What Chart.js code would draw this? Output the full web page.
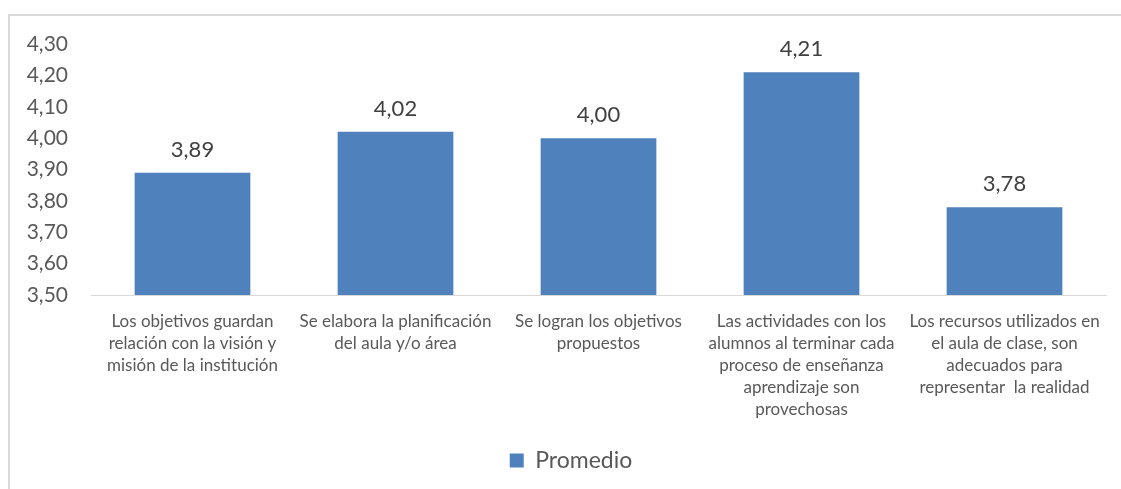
<!DOCTYPE html>
<html>
<head>
<meta charset="utf-8">
<script src="https://cdn.jsdelivr.net/npm/chart.js@4"></script>
<style>
  html, body { margin: 0; padding: 0; background: #fff; overflow: hidden; }
  #frame {
    position: absolute; left: 8px; top: 14px; width: 1140px; height: 490px;
    border-top: 2px solid #d9d9d9; border-left: 2px solid #d9d9d9;
  }
  #wrap { position: absolute; left: 0; top: 0; width: 1131px; height: 470px; }
</style>
</head>
<body>
<div id="frame"><div id="wrap"><canvas id="chart"></canvas></div></div>
<script>
const categories = [
    ['Los objetivos guardan', 'relación con la visión y', 'misión de la institución'],
    ['Se elabora la planificación', 'del aula y/o área'],
    ['Se logran los objetivos', 'propuestos'],
    ['Las actividades con los', 'alumnos al terminar cada', 'proceso de enseñanza', 'aprendizaje son', 'provechosas'],
    ['Los recursos utilizados en', 'el aula de clase, son', 'adecuados para', 'representar  la realidad']
];
const promedio = [3.89, 4.02, 4.00, 4.21, 3.78];
const yMin = 3.5, yMax = 4.3, yStep = 0.1;

const FONT = "Lato, 'Open Sans', sans-serif";
const fmt = v => Number(v).toFixed(2).replace('.', ',');

// writes each bar's value just above it
const valueLabels = {
    id: 'valueLabels',
    afterDatasetsDraw(chart) {
        const ctx = chart.ctx;
        const meta = chart.getDatasetMeta(0);
        ctx.save();
        ctx.font = '22px ' + FONT;
        ctx.fillStyle = '#404040';
        ctx.textAlign = 'center';
        ctx.textBaseline = 'bottom';
        meta.data.forEach((bar, i) => {
            ctx.fillText(fmt(promedio[i]), bar.x, bar.y - 12);
        });
        ctx.restore();
    }
};

// nudge the legend a little to the right of the canvas centre
const legendShift = {
    id: 'legendShift',
    afterLayout(chart) {
        chart.legend.left += 13;
        chart.legend.right += 13;
    }
};

new Chart(document.getElementById('chart').getContext('2d'), {
    type: 'bar',
    data: {
        labels: categories,
        datasets: [{
            label: 'Promedio',
            data: promedio,
            backgroundColor: '#4f81bd',
            borderWidth: 0,
            categoryPercentage: 1,
            barPercentage: 0.57
        }]
    },
    options: {
        responsive: true, maintainAspectRatio: false, animation: false,
        layout: { padding: { top: 28, right: 35, left: 0, bottom: 4 } },
        scales: {
            x: {
                grid: { display: false, drawTicks: false },
                border: { display: true, color: '#d9d9d9', width: 1 },
                afterFit: s => { s.height = 148; },
                ticks: {
                    color: '#595959', padding: 15, maxRotation: 0, autoSkip: false,
                    font: { family: FONT, size: 17, lineHeight: 1.3 }
                }
            },
            y: {
                min: yMin, max: yMax,
                // hidden grid, but its tick length keeps labels clear of the bars
                grid: { display: false, drawTicks: true, tickLength: 21 },
                border: { display: false },
                afterFit: s => { s.width = 81; },
                ticks: {
                    stepSize: yStep, padding: 2, color: '#595959',
                    font: { family: FONT, size: 21 },
                    callback: v => fmt(v)
                }
            }
        },
        plugins: {
            tooltip: { enabled: false },
            legend: {
                position: 'bottom',
                labels: {
                    color: '#595959', boxWidth: 14, boxHeight: 14, padding: 6,
                    font: { family: FONT, size: 23 }
                }
            }
        }
    },
    plugins: [valueLabels, legendShift]
});
</script>
</body>
</html>
